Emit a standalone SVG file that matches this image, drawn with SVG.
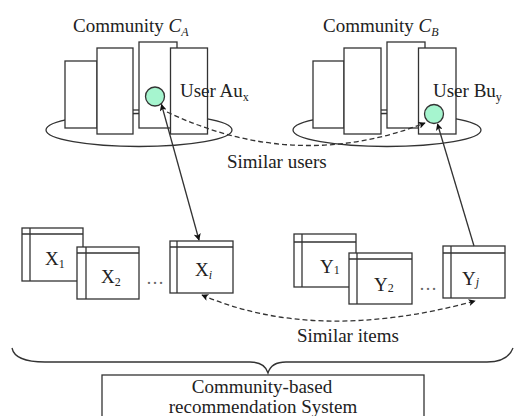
<svg xmlns="http://www.w3.org/2000/svg" width="514" height="416" viewBox="0 0 514 416" font-family="Liberation Serif, DejaVu Serif, serif">
  <style>
    .t { font-size: 19px; fill: #222; }
    .sub { font-size: 12px; }
    .it { font-style: italic; }
    .ln { fill: none; stroke: #333; stroke-width: 1.3; }
    .box { fill: #fff; stroke: #333; stroke-width: 1.3; }
    .user { fill: #a6f5cf; stroke: #333; stroke-width: 1.3; }
    .dash { fill: none; stroke: #333; stroke-width: 1.3; stroke-dasharray: 5 3; }
    .dots { font-size: 18px; fill: #666; }
  </style>
  <defs>
    <marker id="arr" viewBox="0 0 10 10" refX="9" refY="5" markerWidth="8" markerHeight="7" markerUnits="userSpaceOnUse" orient="auto-start-reverse">
      <path d="M0,0 L10,5 L0,10 L2.5,5 Z" fill="#111"/>
    </marker>
  </defs>

  <!-- community A -->
  <g id="community-a">
    <ellipse class="ln" cx="139" cy="130" rx="93" ry="16.5"/>
    <line class="ln" x1="133" y1="110" x2="139" y2="110"/>
    <rect class="box" x="65" y="61" width="32" height="67"/>
    <rect class="box" x="97" y="48" width="36" height="86"/>
    <rect class="box" x="139" y="42" width="38" height="86"/>
    <rect class="box" x="170.5" y="48" width="37" height="86"/>
    <text class="t" x="73" y="32">Community <tspan class="it">C</tspan><tspan class="it sub" dy="4">A</tspan></text>
  </g>
  <g id="user-a">
    <circle class="user" cx="155" cy="96.5" r="9.5"/>
    <text class="t" x="180" y="97">User Au<tspan class="sub" dy="4">x</tspan></text>
  </g>

  <!-- community B -->
  <g id="community-b">
    <ellipse class="ln" cx="387" cy="130" rx="94" ry="16.5"/>
    <line class="ln" x1="381" y1="110" x2="387" y2="110"/>
    <rect class="box" x="313" y="61" width="31" height="67"/>
    <rect class="box" x="344" y="48" width="37" height="86"/>
    <rect class="box" x="387" y="42" width="38" height="86"/>
    <rect class="box" x="418.5" y="48" width="37.5" height="86"/>
    <text class="t" x="323" y="32">Community <tspan class="it">C</tspan><tspan class="it sub" dy="4">B</tspan></text>
  </g>
  <g id="user-b">
    <circle class="user" cx="434" cy="114" r="9.5"/>
    <text class="t" x="433" y="97">User Bu<tspan class="sub" dy="4">y</tspan></text>
  </g>

  <!-- items of community A -->
  <g id="item-x1">
    <rect class="box" x="22" y="228" width="61" height="53"/>
    <line class="ln" x1="22" y1="234" x2="83" y2="234"/>
    <line class="ln" x1="30" y1="228" x2="30" y2="281"/>
    <text class="t" x="45" y="265">X<tspan class="sub" dy="3">1</tspan></text>
  </g>
  <g id="item-x2">
    <rect class="box" x="77" y="247" width="62" height="52"/>
    <line class="ln" x1="77" y1="253" x2="139" y2="253"/>
    <line class="ln" x1="86" y1="247" x2="86" y2="299"/>
    <text class="t" x="101" y="283">X<tspan class="sub" dy="3">2</tspan></text>
  </g>
  <text class="dots" x="146" y="284">…</text>
  <g id="item-xi">
    <rect class="box" x="170" y="241" width="63" height="52"/>
    <line class="ln" x1="170" y1="247" x2="233" y2="247"/>
    <line class="ln" x1="177" y1="241" x2="177" y2="293"/>
    <text class="t" x="195" y="276">X<tspan class="sub it" dy="3">i</tspan></text>
  </g>

  <!-- items of community B -->
  <g id="item-y1">
    <rect class="box" x="294" y="234" width="62" height="53"/>
    <line class="ln" x1="294" y1="242" x2="356" y2="242"/>
    <line class="ln" x1="302" y1="234" x2="302" y2="287"/>
    <text class="t" x="320" y="273">Y<tspan class="sub" dy="1">1</tspan></text>
  </g>
  <g id="item-y2">
    <rect class="box" x="349" y="253" width="63" height="51"/>
    <line class="ln" x1="349" y1="259" x2="412" y2="259"/>
    <line class="ln" x1="357" y1="253" x2="357" y2="304"/>
    <text class="t" x="374" y="291">Y<tspan class="sub" dy="1">2</tspan></text>
  </g>
  <text class="dots" x="419" y="290">…</text>
  <g id="item-yj">
    <rect class="box" x="443" y="246" width="62" height="52"/>
    <line class="ln" x1="443" y1="253" x2="505" y2="253"/>
    <line class="ln" x1="451" y1="246" x2="451" y2="298"/>
    <text class="t" x="462" y="285">Y<tspan class="sub it" dy="1">j</tspan></text>
  </g>

  <!-- connectors -->
  <g id="connectors">
    <line class="ln" x1="199" y1="240" x2="161.5" y2="104.5" marker-start="url(#arr)" marker-end="url(#arr)"/>
    <line class="ln" x1="474" y1="246" x2="437.5" y2="124" marker-end="url(#arr)"/>
    <path class="dash" d="M167,112 Q296,173 425,123" marker-end="url(#arr)"/>
    <path class="dash" d="M202,295 Q316,344 475,301" marker-start="url(#arr)" marker-end="url(#arr)"/>
  </g>
  <text class="t" x="227" y="168">Similar users</text>
  <text class="t" x="297" y="342">Similar items</text>

  <!-- brace gathering all parts -->
  <path class="ln" d="M12,348 C14,358 25,362 45,362 L250,362 C260,362 266,366 268,373 C270,366 276,362 286,362 L487,362 C503,362 510,356 513,348"/>

  <g id="system">
    <rect class="box" x="102" y="375" width="322" height="50"/>
    <text class="t" x="262" y="393" text-anchor="middle">Community-based</text>
    <text class="t" x="263" y="413" text-anchor="middle">recommendation System</text>
  </g>
</svg>
